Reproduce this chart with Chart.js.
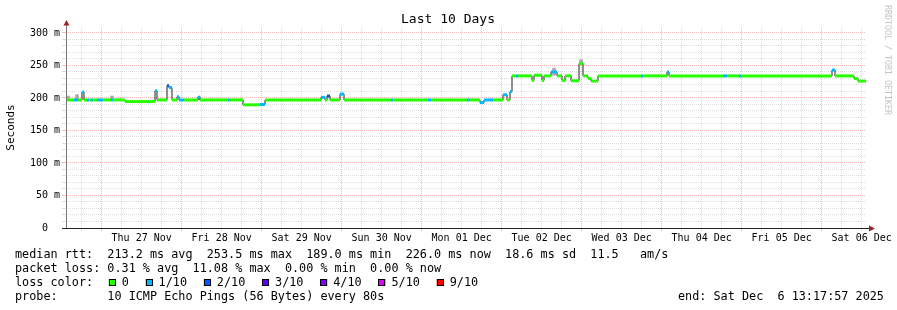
<!DOCTYPE html>
<html>
<head>
<meta charset="utf-8">
<script src="https://cdn.jsdelivr.net/npm/chart.js@4/dist/chart.umd.min.js"></script>
<style>
  body { margin: 0; background: #fff; }
  canvas { display: block; }
</style>
</head>
<body>
<canvas id="chart" width="897" height="310"></canvas>
<script>
// median rtt as steps: hours since Wed Nov 26 13:17:57, median in ms, loss level (index into lossLabels)
const stepHours = [0, 2.4, 3.6, 4.8, 5.4, 6.3, 6.9, 7.5, 8.1, 9.3, 11.1, 13.5, 14.1, 17.7, 26.7, 27.3,
  30.3, 30.9, 31.8, 33.3, 33.9, 35.4, 39.6, 40.2, 48.6, 49.2, 53.1, 58.2, 59.7, 76.5, 77.7, 78.3,
  79.2, 82.2, 83.4, 97.5, 98.1, 108.6, 109.5, 120.3, 121.2, 124.2, 125.4, 128.1, 131.1, 132.3,
  133.2, 133.8, 135, 135.6, 139.8, 140.4, 142.8, 143.4, 145.5, 147.3, 148.8, 149.7, 151.5, 153.9,
  155.1, 156.6, 157.5, 159.6, 172.5, 173.1, 180.3, 180.9, 197.1, 198.3, 201.9, 202.5, 229.8,
  230.7, 236.4, 237.6, 240];
const stepMedian = [197, 197, 197, 209, 197, 197, 197, 197, 197, 197, 197, 197, 197, 194.5, 211, 197,
  219, 216, 197, 202, 197, 197, 201, 197, 197, 197, 189.5, 190, 197, 201, 197, 203,
  197, 206, 197, 197, 197, 197, 197, 197, 197, 193, 197, 197, 205, 197,
  210, 234, 234, 234, 227, 235, 227, 234, 240, 234, 227, 234, 226.5, 253,
  234, 230, 226, 234, 234, 234, 240, 234, 234, 234, 234, 234, 243,
  234, 230, 226, 226];
const stepLoss = [0, 1, 0, 1, 0, 1, 0, 1, 0, 1, 0, 1, 0, 0, 1, 0,
  2, 1, 0, 1, 1, 0, 1, 0, 1, 0, 0, 1, 0, 1, 0, 2,
  0, 1, 0, 1, 0, 1, 0, 1, 0, 1, 1, 0, 1, 0,
  1, 0, 1, 0, 0, 0, 0, 0, 1, 0, 0, 0, 0, 0,
  0, 0, 0, 0, 1, 0, 1, 0, 1, 0, 1, 0, 1,
  0, 0, 0, 0];

// smoke (spread of the pings) where it shows above the median
const smokeHours = [0.6, 3.3, 13.8, 39.9, 146.4, 154.5];
const smokeLow = [197, 197, 197, 197, 235, 253];
const smokeHigh = [203, 205, 203, 202, 246, 259];

const dayLabels = ['Thu 27 Nov', 'Fri 28 Nov', 'Sat 29 Nov', 'Sun 30 Nov', 'Mon 01 Dec',
  'Tue 02 Dec', 'Wed 03 Dec', 'Thu 04 Dec', 'Fri 05 Dec', 'Sat 06 Dec'];
const yLabelValues = [0, 50, 100, 150, 200, 250, 300];

const lossLabels = ['0', '1/10', '2/10', '3/10', '4/10', '5/10', '9/10'];
const lossColors = ['#26ff00', '#00b8ff', '#0059ff', '#5e00ff', '#7e00ff', '#dd00ff', '#ff0000'];

const rttStats = ['213.2 ms avg', '253.5 ms max', '189.0 ms min', '226.0 ms now', '18.6 ms sd', '11.5   am/s'];
const lossStats = ['0.31 % avg', '11.08 % max', '0.00 % min', '0.00 % now'];
const probeText = '10 ICMP Echo Pings (56 Bytes) every 80s';
const endText = 'end: Sat Dec  6 13:17:57 2025';

const firstMidnight = 10.7; // hours from start to Thu 27 Nov 00:00
const MONO = 'DejaVu Sans Mono';
const gridGrey = '#dedede';
const gridRed = '#f4b8b8';

const xTickHours = [];
for (let k = -1; k <= 38; k++) xTickHours.push(firstMidnight + 6 * k);
const yGrid = [];
for (let v = 0; v <= 300; v += 10) yGrid.push(v);

// median line pieces colored by loss (horizontal parts only)
const lossPieces = [];
for (let i = 0; i < stepHours.length - 1; i++) {
  lossPieces.push({x: stepHours[i], y: stepMedian[i]});
  lossPieces.push({x: stepHours[i + 1], y: stepMedian[i]});
  lossPieces.push({x: stepHours[i + 1], y: null});
}

const tickIndex = v => Math.round((v - firstMidnight) / 6);

const decor = {
  id: 'decor',
  afterDraw(chart) {
    const ctx = chart.ctx;
    const area = chart.chartArea;
    ctx.save();

    // axes
    ctx.fillStyle = '#777';
    ctx.fillRect(area.left, 22, 1, area.bottom - 22);
    ctx.fillStyle = '#222';
    ctx.fillRect(62, area.bottom, 807, 1);
    ctx.fillStyle = '#9a2424';
    ctx.beginPath();
    ctx.moveTo(area.left + 0.5, 20);
    ctx.lineTo(area.left + 3.5, 25.5);
    ctx.lineTo(area.left - 2.5, 25.5);
    ctx.closePath();
    ctx.fill();
    ctx.beginPath();
    ctx.moveTo(875, area.bottom + 0.5);
    ctx.lineTo(869, area.bottom - 2.5);
    ctx.lineTo(869, area.bottom + 3.5);
    ctx.closePath();
    ctx.fill();

    // title
    ctx.fillStyle = '#000';
    ctx.textBaseline = 'middle';
    ctx.textAlign = 'center';
    ctx.font = `13px "${MONO}"`;
    ctx.fillText('Last 10 Days', 448, 19.5);

    // y title
    ctx.save();
    ctx.translate(11.5, 127.5);
    ctx.rotate(-Math.PI / 2);
    ctx.font = `11px "${MONO}"`;
    ctx.fillText('Seconds', 0, 0);
    ctx.restore();

    // watermark
    ctx.save();
    ctx.translate(887.5, 5);
    ctx.rotate(Math.PI / 2);
    ctx.textAlign = 'left';
    ctx.fillStyle = '#c4c4c4';
    ctx.font = `8.3px "${MONO}"`;
    ctx.fillText('RRDTOOL / TOBI OETIKER', 0, 0);
    ctx.restore();

    // legend rows
    ctx.textAlign = 'left';
    ctx.fillStyle = '#000';
    ctx.font = `11.8px "${MONO}"`;
    const cw = ctx.measureText('0').width;
    ctx.fillText('median rtt:  ' + rttStats.join('  '), 15, 254.5);
    ctx.fillText('packet loss: ' + lossStats.join('  '), 15, 268.7);
    ctx.fillText('loss color:', 15, 282.7);
    let bx = 108.7;
    lossLabels.forEach((lab, i) => {
      ctx.fillStyle = lossColors[i];
      ctx.fillRect(bx, 279, 7, 7);
      ctx.strokeStyle = '#000';
      ctx.lineWidth = 1;
      ctx.strokeRect(Math.round(bx) + 0.5, 279.5, 6, 6);
      ctx.fillStyle = '#000';
      ctx.fillText(lab, bx + 13, 282.7);
      bx += 15.6 + ctx.measureText(lab).width + 2 * cw;
    });
    ctx.fillText('probe:', 15, 296.8);
    ctx.fillText(probeText, 15 + 13 * cw, 296.8);
    ctx.fillText(endText, 678, 296.8);
    ctx.restore();
  }
};

new Chart(document.getElementById('chart'), {
  type: 'line',
  data: {
    datasets: [
      {
        type: 'bar',
        data: smokeHours.map((h, i) => ({x: h, y: [smokeLow[i], smokeHigh[i]]})),
        backgroundColor: '#aaaaaa',
        barThickness: 3,
        grouped: false,
        order: 3
      },
      {
        data: stepHours.map((h, i) => ({x: h, y: stepMedian[i]})),
        stepped: true,
        borderColor: '#202020',
        borderWidth: 1,
        pointRadius: 0,
        order: 2
      },
      {
        data: lossPieces,
        borderWidth: 3,
        borderCapStyle: 'butt',
        spanGaps: false,
        pointRadius: 0,
        segment: {
          borderColor: c => lossColors[stepLoss[Math.floor(c.p0DataIndex / 3)]]
        },
        order: 1
      }
    ]
  },
  options: {
    responsive: false,
    animation: false,
    layout: {padding: {top: 27, right: 31, left: 0, bottom: 0}},
    plugins: {legend: {display: false}, tooltip: {enabled: false}, title: {display: false}},
    scales: {
      x: {
        type: 'linear',
        min: 0,
        max: 240,
        offset: false,
        afterBuildTicks: s => { s.ticks = xTickHours.map(v => ({value: v})); },
        afterFit: s => { s.height = 82; },
        grid: {
          offset: false,
          lineWidth: 1,
          tickLength: 3,
          color: c => (tickIndex(c.tick.value) % 4 === 0 ? gridRed : gridGrey)
        },
        border: {display: false, dash: [1, 1]},
        ticks: {
          autoSkip: false,
          maxRotation: 0,
          padding: 1,
          color: '#000',
          font: {family: MONO, size: 10},
          callback: v => {
            const k = tickIndex(v);
            return ((k % 4) + 4) % 4 === 2 ? dayLabels[(k - 2) / 4] : '';
          }
        }
      },
      y: {
        min: 0,
        max: 309.2,
        afterBuildTicks: s => { s.ticks = yGrid.map(v => ({value: v})); },
        afterFit: s => { s.width = 66; },
        grid: {
          lineWidth: 1,
          tickLength: 4,
          color: c => (c.tick.value % 50 === 0 ? gridRed : gridGrey)
        },
        border: {display: false, dash: [1, 1]},
        ticks: {
          autoSkip: false,
          padding: 2,
          color: '#000',
          font: {family: MONO, size: 10},
          callback: v => (yLabelValues.includes(v) ? (v === 0 ? '0  ' : v + ' m') : '')
        }
      }
    }
  },
  plugins: [decor]
});
</script>
</body>
</html>
